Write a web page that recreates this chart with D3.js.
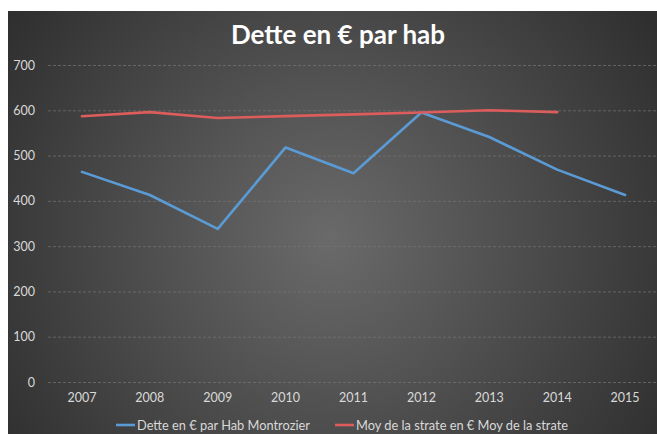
<!DOCTYPE html>
<html><head><meta charset="utf-8">
<script src="https://cdn.jsdelivr.net/npm/d3@7"></script>
<style>
html,body{margin:0;padding:0;background:#fff;}
svg{display:block;}
</style></head>
<body>
<script>
const years = ["2007","2008","2009","2010","2011","2012","2013","2014","2015"];
const detteMontrozier = [464, 413, 338, 518, 461, 595, 541, 469, 413];
const moyStrate = [587, 596, 583, 587, 591, 595, 600, 596, null];
const yTicks = [0,100,200,300,400,500,600,700];
const seriesNames = ["Dette en € par Hab Montrozier", "Moy de la strate en € Moy de la strate"];
const seriesColors = ["#5b9bd5", "#dd5c5c"];
const title = "Dette en € par hab";

const W = 657, H = 434;
const font = "Lato, 'Open Sans', sans-serif";
const svg = d3.select("body").append("svg").attr("width", W).attr("height", H);

const defs = svg.append("defs");
const rg = defs.append("radialGradient").attr("id","bg")
  .attr("gradientUnits","userSpaceOnUse").attr("cx",330).attr("cy",240).attr("r",390);
rg.append("stop").attr("offset","0%").attr("stop-color","#6a6a6a");
rg.append("stop").attr("offset","100%").attr("stop-color","#2f2f2f");

svg.append("rect").attr("x",8).attr("y",11).attr("width",W-8).attr("height",H-11).attr("fill","url(#bg)");

const plot = {left:48, right:659, top:65, bottom:382};
const x = d3.scaleBand().domain(years).range([plot.left, plot.right]);
const y = d3.scaleLinear().domain([0,700]).range([plot.bottom, plot.top]);

// gridlines
svg.append("g").selectAll("line").data(yTicks).join("line")
  .attr("x1", plot.left).attr("x2", W)
  .attr("y1", d=>y(d)+0.5).attr("y2", d=>y(d)+0.5)
  .attr("stroke","#767676").attr("stroke-width",0.7).attr("stroke-dasharray","3,2");

// y axis labels
const yAxis = d3.axisLeft(y).tickValues(yTicks).tickSize(0).tickPadding(0);
const gy = svg.append("g").attr("transform","translate(35,0)").call(yAxis);
gy.select(".domain").remove();
gy.selectAll("text").attr("fill","#d9d9d9").style("font-family",font).style("font-size","12.5px");

// x axis labels
const xAxis = d3.axisBottom(x).tickSize(0).tickPadding(0);
const gx = svg.append("g").attr("transform","translate(0,393)").call(xAxis);
gx.select(".domain").remove();
gx.selectAll("text").attr("fill","#d9d9d9").style("font-family",font).style("font-size","12.5px");

const cx = d=>x(d)+x.bandwidth()/2;
const series = [detteMontrozier, moyStrate];
series.forEach((vals,i)=>{
  const line = d3.line().defined(d=>d[1]!=null).x(d=>cx(d[0])).y(d=>y(d[1]));
  svg.append("path").datum(years.map((yr,j)=>[yr,vals[j]]))
    .attr("d", line).attr("fill","none").attr("stroke",seriesColors[i])
    .attr("stroke-width",2.6).attr("stroke-linejoin","round").attr("stroke-linecap","round");
});

// title
svg.append("text").attr("x",338).attr("y",44).attr("text-anchor","middle")
  .attr("fill","#ffffff").style("font-family",font).style("font-weight","bold").style("font-size","26px")
  .text(title);

// legend
const legX = [116, 335];
seriesNames.forEach((n,i)=>{
  const g = svg.append("g").attr("transform",`translate(${legX[i]},425)`);
  g.append("line").attr("x1",0).attr("x2",19).attr("y1",0).attr("y2",0)
    .attr("stroke",seriesColors[i]).attr("stroke-width",2.6);
  g.append("text").attr("x",21).attr("y",4.5).attr("fill","#d9d9d9")
    .style("font-family",font).style("font-size","12.8px").text(n);
});
</script>
</body></html>
